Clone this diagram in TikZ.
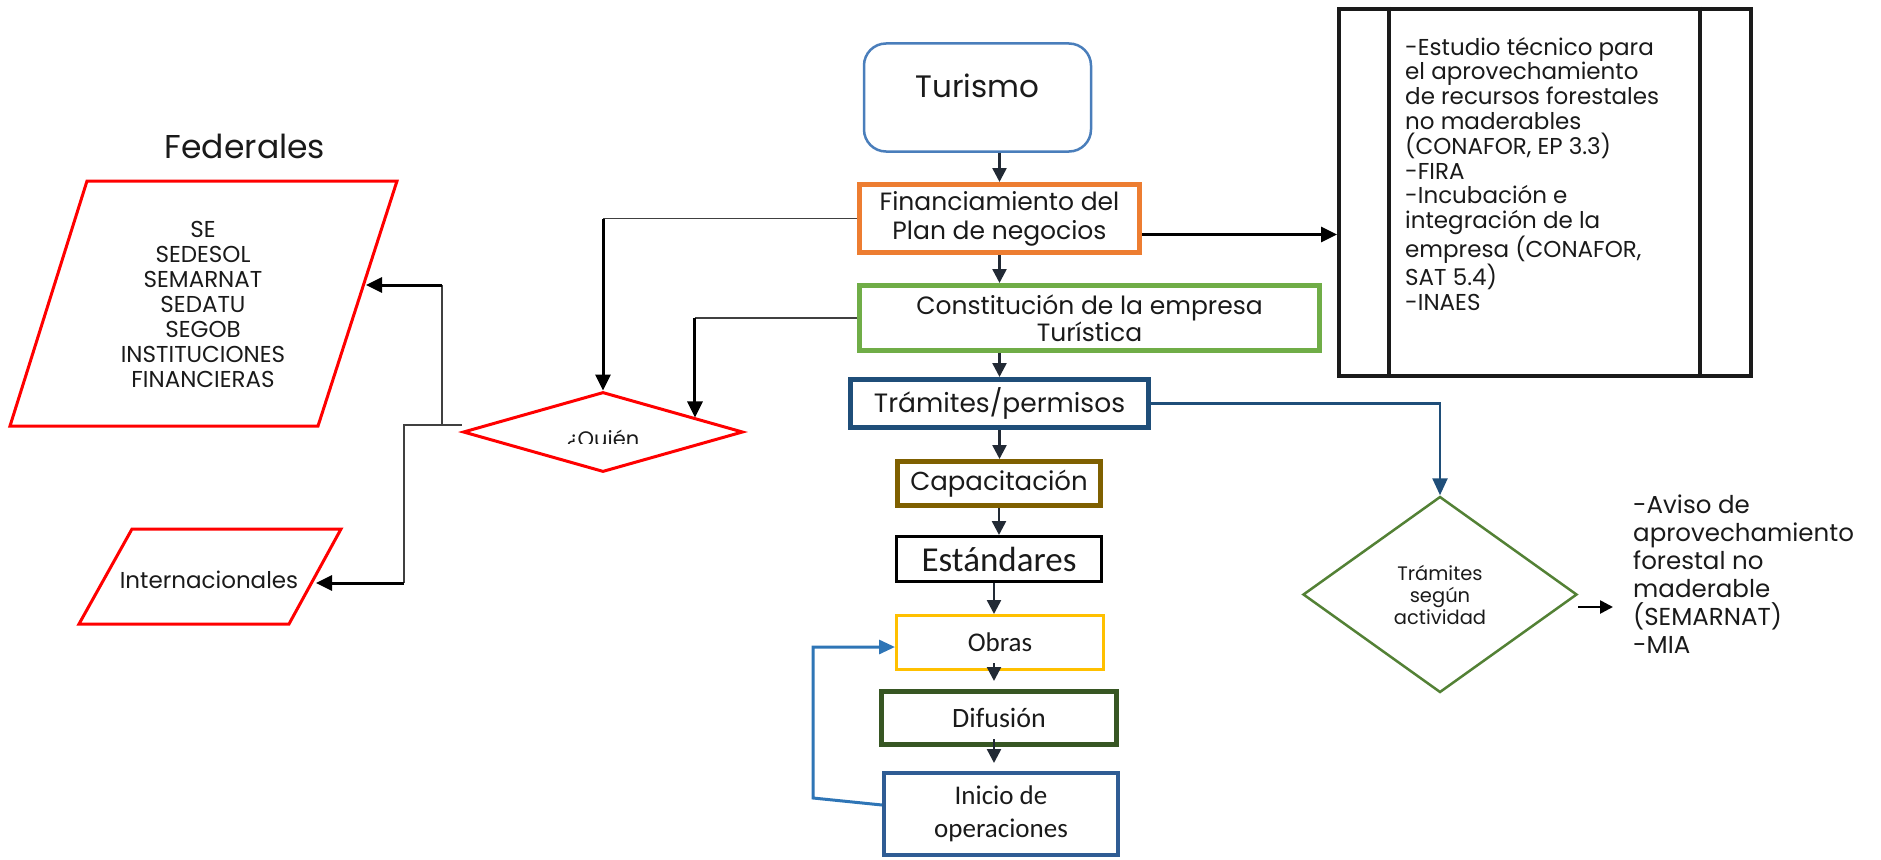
\documentclass[tikz,border=0pt]{standalone}
\usepackage{fontspec}
\setmainfont{Poppins}
\newfontfamily\calib{Carlito}
\usetikzlibrary{shapes.geometric,arrows.meta,calc}
\newcommand\fsz[2]{\fontsize{#1}{#2}\selectfont}
\definecolor{turblue}{HTML}{4A7EBB}
\definecolor{orng}{HTML}{ED7D31}
\definecolor{cgreen}{HTML}{70AD47}
\definecolor{navy}{HTML}{1F4E79}
\definecolor{olive}{HTML}{7F6000}
\definecolor{yell}{HTML}{FFC000}
\definecolor{dgreen}{HTML}{375623}
\definecolor{iniblue}{HTML}{2F5C94}
\definecolor{fbblue}{HTML}{2E75B6}
\definecolor{arrdark}{HTML}{222A35}
\definecolor{tgreen}{HTML}{538135}
\definecolor{thingray}{HTML}{404040}
\definecolor{procblack}{HTML}{1A1A1A}
\definecolor{txt}{HTML}{1A1A1A}
\begin{document}
\begin{tikzpicture}[x=1pt,y=-1pt,
  every node/.style={text=txt},
  box/.style={draw, rectangle, inner sep=0pt, align=center},
  chain/.style={draw=arrdark, line width=2.5pt, -{Triangle[width=14pt,length=14pt]}},
  thinln/.style={draw=thingray, line width=1.5pt},
  thkarrow/.style={draw=black, line width=3pt, -{Triangle[width=15pt,length=16pt]}},
  blueln/.style={draw=navy, line width=2.5pt, -{Triangle[width=15pt,length=17pt]}},
  fbarrow/.style={draw=fbblue, line width=3pt, -{Triangle[width=14pt,length=16pt]}},
  redpar/.style={draw=red, line width=3pt, line join=miter},
]
\useasboundingbox (0,0) rectangle (1881,859);

% ---- central chain ----
\node[draw=turblue, line width=2.5pt, rounded corners=22pt, minimum width=227pt, minimum height=108pt,
      text height=16pt, text depth=16pt, font=\fsz{31}{35}] (turismo) at (977.5,97.5) {Turismo};
\node[box, draw=orng, line width=5pt, minimum width=280pt, minimum height=68pt, font=\fsz{25}{29}]
      (fin) at (999.5,218.5) {Financiamiento del\\Plan de negocios};
\node[box, draw=cgreen, line width=5pt, minimum width=460pt, minimum height=65pt, font=\fsz{25}{27}]
      (const) at (1089.5,318) {Constitución de la empresa\\Turística};
\node[box, draw=navy, line width=5pt, minimum width=298pt, minimum height=48pt, font=\fsz{26.5}{29}]
      (tram) at (999.5,403.5) {Trámites/permisos};
\node[box, draw=olive, line width=5pt, minimum width=203pt, minimum height=44pt, font=\fsz{26}{29}]
      (cap) at (999,483.5) {Capacitación};
\node[box, draw=black, line width=3pt, minimum width=205pt, minimum height=45pt, font=\calib\fsz{35}{40}]
      (est) at (999,559) {Estándares};
\node[box, draw=yell, line width=3pt, minimum width=207pt, minimum height=54pt, font=\calib\fsz{27}{31}]
      (obras) at (1000,642.5) {Obras};
\node[box, draw=dgreen, line width=5pt, minimum width=235pt, minimum height=53pt, font=\calib\fsz{28}{32}]
      (dif) at (999,718) {Difusión};
\node[box, draw=iniblue, line width=4pt, minimum width=234pt, minimum height=82pt, font=\calib\fsz{27}{33}]
      (inicio) at (1001,814) {Inicio de\\operaciones};

\draw[chain] (turismo.south -| fin.north) -- (fin.north);
\draw[chain] (fin.south) -- (fin.south |- const.north);
\draw[chain] (const.south -| tram.north) -- (tram.north);
\draw[chain] (tram.south) -- (tram.south |- cap.north);
\draw[chain] (cap.south) -- (cap.south |- est.north);
\draw[chain] ([xshift=-5pt]est.south) -- ([xshift=-5pt]est.south |- obras.north);
\draw[chain] ([xshift=-6pt,yshift=8pt]obras.south) -- ([xshift=-6pt,yshift=8pt]obras.south |- dif.north);
\draw[chain] ([xshift=-5pt,yshift=8pt]dif.south) -- ([xshift=-5pt,yshift=8pt]dif.south |- inicio.north);
\draw[fbarrow] ([yshift=9pt]inicio.west) -- ++(-69,-7) coordinate (fbc) |- ([yshift=-4.5pt]obras.west);

% ---- right process box ----
\node[draw=procblack, line width=4pt, minimum width=412pt, minimum height=367pt, inner sep=0pt]
      (proc) at (1545,192.5) {};
\draw[draw=procblack, line width=4pt] ([xshift=52pt]proc.north west) -- ([xshift=52pt]proc.south west);
\draw[draw=procblack, line width=4pt] ([xshift=-53pt]proc.north east) -- ([xshift=-53pt]proc.south east);
\node[anchor=north west, align=left, inner sep=0pt, font=\fsz{23}{24.8}] (proctext) at (1405,37)
  {-Estudio técnico para\\el aprovechamiento\\de recursos forestales\\no maderables\\(CONAFOR, EP 3.3)\\-FIRA\\-Incubación e\\integración de la\\empresa (CONAFOR,\\SAT 5.4)\\-INAES};
\draw[thkarrow] ([yshift=-16pt]fin.east) -- ([yshift=-16pt]fin.east -| proc.west);

% ---- tramites diamond ----
\node[diamond, draw=tgreen, line width=2.5pt, minimum width=274pt, minimum height=196pt, inner sep=0pt,
      align=center, font=\fsz{19.5}{22}] (tdia) at (1440,594.5) {Trámites\\según\\actividad};
\draw[blueln] (tram.east) -| (tdia.north);
\node[anchor=north west, align=left, inner sep=0pt, font=\fsz{24.5}{28}] (aviso) at (1633,495)
  {-Aviso de\\aprovechamiento\\forestal no\\maderable\\(SEMARNAT)\\-MIA};
\coordinate (avtip) at (1613,607);
\draw[draw=black, line width=2.5pt, -{Triangle[width=13pt,length=13pt]}] (tdia.east |- avtip) -- (avtip);

% ---- left side ----
\node[anchor=base, font=\fsz{33}{38}] (fedtitle) at (245,158) {Federales};
\draw[redpar] (87,181) -- (397,181) -- (318,426) -- (10,426) -- cycle;
\node[align=center, font=\fsz{23}{25}] (fedtext) at (203,304)
  {SE\\SEDESOL\\SEMARNAT\\SEDATU\\SEGOB\\INSTITUCIONES\\FINANCIERAS};
\draw[redpar] (132,529) -- (341,529) -- (289,624) -- (79,624) -- cycle;
\node[anchor=base, font=\fsz{23}{27}] (inttext) at (209,588) {Internacionales};

\node[diamond, draw=red, line width=3pt, minimum width=280pt, minimum height=80pt, inner sep=0pt]
      (quien) at (603,432) {};
\begin{scope}
  \clip (540,415) rectangle (680,443);
  \node[anchor=base, font=\fsz{21}{24}] (quientext) at (603,446) {¿Quién};
\end{scope}

\coordinate (fedR) at (366,285);
\coordinate (intR) at (316,583);
\coordinate (jA) at (442,425);
\coordinate (jB) at (404,425);
\draw[thinln] ([yshift=7pt]quien.west) -- (jB) -- (jB |- intR);
\draw[thinln] (jA) -- (jA |- fedR);
\draw[thkarrow] (jA |- fedR) -- (fedR);
\draw[thkarrow] (jB |- intR) -- (intR);

\draw[thinln] (fin.west) -- (fin.west -| quien.north);
\draw[thkarrow] (fin.west -| quien.north) -- (quien.north);
\coordinate (qne) at ($(quien.north)!0.65!(quien.east)$);
\draw[thinln] (const.west) -- (const.west -| qne);
\draw[thkarrow] (const.west -| qne) -- (qne);
\end{tikzpicture}
\end{document}
